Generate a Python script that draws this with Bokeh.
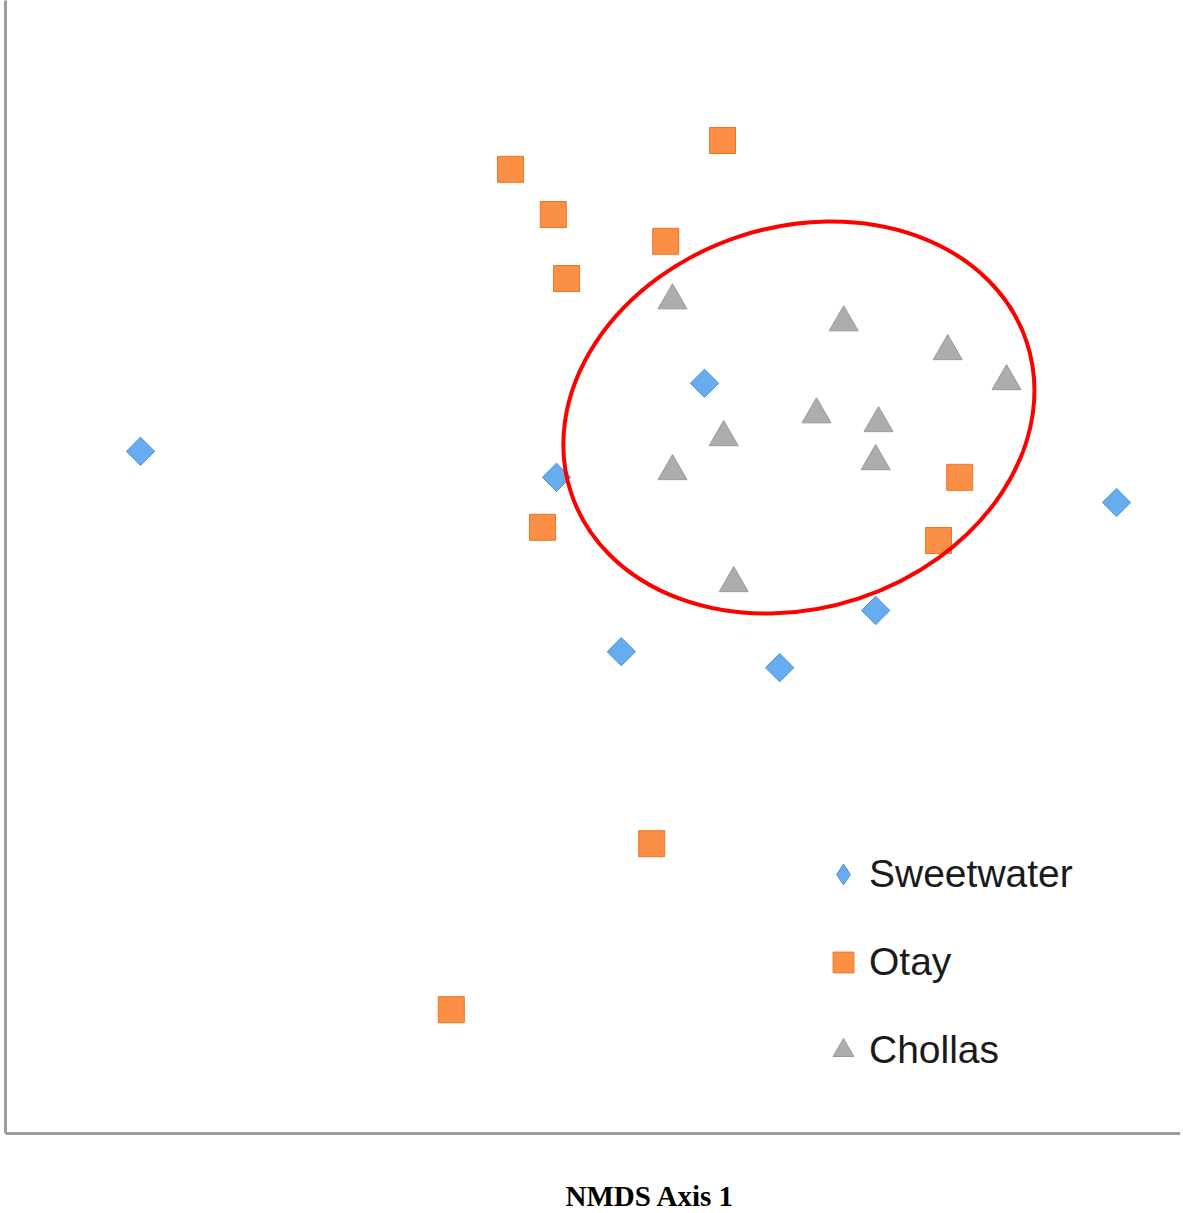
import math
from bokeh.plotting import figure
from bokeh.models import FixedTicker, Legend, LegendItem, Title, Range1d
from bokeh.embed import file_html
from bokeh.resources import INLINE

# --- data (NMDS scores) ---
sweet_x = [-1.250, -0.210, 0.160, -0.048, 0.348, 0.588, 1.190]
sweet_y = [0.373, 0.308, 0.543, -0.128, -0.168, -0.025, 0.245]

otay_x = [0.205, -0.325, -0.218, 0.063, -0.185, 0.798, -0.245, 0.745, 0.028, -0.473]
otay_y = [1.150, 1.078, 0.965, 0.898, 0.805, 0.308, 0.183, 0.150, -0.608, -1.023]

chollas_x = [0.080, 0.508, 0.768, 0.915, 0.440, 0.595, 0.208, 0.588, 0.080, 0.233]
chollas_y = [0.750, 0.695, 0.623, 0.548, 0.465, 0.443, 0.408, 0.348, 0.323, 0.043]

# confidence ellipse around Chollas
ell_cx = [0.396]
ell_cy = [0.4575]
ell_w = [1.20]
ell_h = [0.953]
ell_angle = [0.321]  # radians

x_label = "NMDS Axis 1"
series_names = ["Sweetwater", "Otay", "Chollas"]

p = figure(
    frame_width=1175, frame_height=1133,
    x_range=Range1d(-1.5875, 1.35), y_range=Range1d(-1.3325, 1.5),
    output_backend="svg", toolbar_location=None,
    min_border_left=5, min_border_right=0, min_border_top=0, min_border_bottom=0,
    background_fill_color="white", border_fill_color="white",
)
p.outline_line_color = None
p.xgrid.visible = False
p.ygrid.visible = False

for ax in (p.xaxis[0], p.yaxis[0]):
    ax.ticker = FixedTicker(ticks=[])   # the chart shows no ticks
    ax.minor_tick_line_color = None
    ax.major_tick_line_color = None
    ax.major_tick_out = 0
    ax.major_tick_in = 0
    ax.major_label_standoff = 0
    ax.major_label_text_font_size = "0px"
    ax.axis_line_color = "#9c9c9c"
    ax.axis_line_width = 3

# one blank (white, unlabeled) tick at the right end reserves room
# between the axis line and the axis title below it
xa = p.xaxis[0]
xa.ticker = FixedTicker(ticks=[1.349])
xa.major_label_overrides = {1.349: ""}
xa.major_tick_line_color = "white"
xa.major_tick_out = 44

r_sw = p.scatter(sweet_x, sweet_y, marker="square", size=20, angle=math.pi / 4,
                 fill_color="#67acee", line_color="#4a92dc", line_width=1)
r_ot = p.scatter(otay_x, otay_y, marker="square", size=26,
                 fill_color="#fb8f46", line_color="#ee7424", line_width=1)
r_ch = p.scatter(chollas_x, chollas_y, marker="triangle", size=29,
                 fill_color="#adadad", line_color="#999999", line_width=1)

# legend key for Sweetwater (legend keys ignore marker rotation); NaN point is not drawn
r_sw_key = p.scatter([math.nan], [math.nan], marker="diamond", size=20,
                     fill_color="#67acee", line_color="#4a92dc", line_width=1)

p.ellipse(ell_cx, ell_cy, width=ell_w, height=ell_h, angle=ell_angle,
          fill_color=None, line_color="#ff0000", line_width=4)

legend = Legend(
    items=[LegendItem(label=series_names[0], renderers=[r_sw_key]),
           LegendItem(label=series_names[1], renderers=[r_ot]),
           LegendItem(label=series_names[2], renderers=[r_ch])],
    location=(812, 55),
    glyph_width=52, glyph_height=56, label_height=56, spacing=32,
    label_standoff=0, padding=0, margin=0,
    label_text_font="Liberation Sans", label_text_font_size="39px",
    label_text_color="#1a1a1a",
    border_line_color=None, background_fill_alpha=0,
)
p.add_layout(legend, "center")

p.add_layout(Title(text=x_label, align="left", offset=560, standoff=0,
                   text_font="Liberation Serif", text_font_size="29px",
                   text_font_style="bold", text_color="#000000"), "below")

open("out.html", "w").write(file_html(p, INLINE))
